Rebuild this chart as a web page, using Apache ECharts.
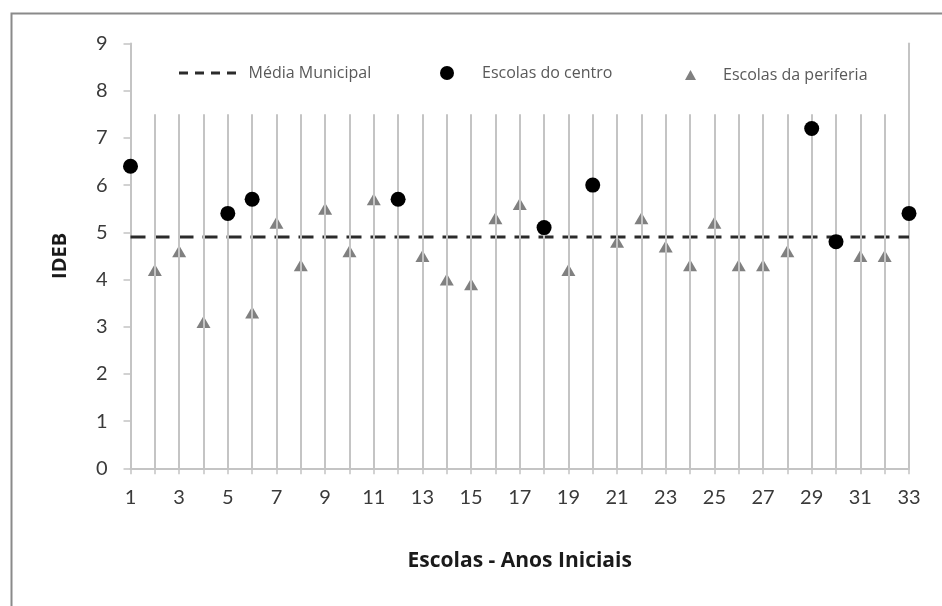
<!DOCTYPE html>
<html>
<head>
<meta charset="utf-8">
<script src="https://cdn.jsdelivr.net/npm/echarts@6/dist/echarts.min.js"></script>
<style>
html,body{margin:0;padding:0;background:#fff;}
#chart{width:942px;height:606px;}
</style>
</head>
<body>
<div id="chart"></div>
<script>
// ---- data ----
const centroX = [1, 5, 6, 12, 18, 20, 29, 30, 33];
const centroY = [6.4, 5.4, 5.7, 5.7, 5.1, 6.0, 7.2, 4.8, 5.4];
const periferiaX = [2, 3, 4, 6, 7, 8, 9, 10, 11, 13, 14, 15, 16, 17, 19, 21, 22, 23, 24, 25, 26, 27, 28, 31, 32];
const periferiaY = [4.2, 4.6, 3.1, 3.3, 5.2, 4.3, 5.5, 4.6, 5.7, 4.5, 4.0, 3.9, 5.3, 5.6, 4.2, 4.8, 5.3, 4.7, 4.3, 5.2, 4.3, 4.3, 4.6, 4.5, 4.5];
const mediaMunicipal = 4.9;
const mediaX = [1, 33];
const dropLineX = [2, 3, 4, 5, 6, 7, 8, 9, 10, 11, 12, 13, 14, 15, 16, 17, 18, 19, 20, 21, 22, 23, 24, 25, 26, 27, 28, 29, 30, 31, 32];
const dropLineTop = 7.5;
const xTickLabels = [1, 3, 5, 7, 9, 11, 13, 15, 17, 19, 21, 23, 25, 27, 29, 31, 33];
const yTicks = [0, 1, 2, 3, 4, 5, 6, 7, 8, 9];

const FONT = "Lato, 'Open Sans', sans-serif";
const FONT2 = "'Open Sans', Lato, sans-serif";
const chart = echarts.init(document.getElementById('chart'), null, {renderer: 'canvas'});

const pair = (xs, ys) => xs.map((x, i) => [x, ys[i]]);
const legendText = {fontFamily: FONT2, fontSize: 16, color: '#595959'};

const option = {
  animation: false,
  backgroundColor: '#ffffff',
  graphic: [{
    type: 'rect', left: 9, top: 11, z: -10, silent: true,
    shape: {width: 945, height: 610},
    style: {fill: 'none', stroke: '#8a8a8a', lineWidth: 2}
  }],
  grid: {left: 130.5, right: 33, top: 43.5, bottom: 137.7, containLabel: false},
  xAxis: {
    type: 'value', min: 1, max: 33, interval: 1,
    name: 'Escolas - Anos Iniciais', nameLocation: 'middle', nameGap: 82,
    nameTextStyle: {fontFamily: FONT2, fontWeight: 'bold', fontSize: 21, color: '#1a1a1a'},
    axisLine: {show: true, onZero: false, lineStyle: {color: '#c4c4c4', width: 2}},
    axisTick: {show: true, length: 6, lineStyle: {color: '#c4c4c4', width: 1.5}},
    axisLabel: {
      margin: 19, fontFamily: FONT, fontSize: 20, color: '#3a3a3a',
      formatter: v => xTickLabels.indexOf(v) >= 0 ? String(v) : ''
    },
    splitLine: {show: false}
  },
  yAxis: [{
    type: 'value', min: 0, max: 9, interval: 1,
    name: 'IDEB', nameLocation: 'middle', nameGap: 60,
    nameTextStyle: {fontFamily: FONT2, fontWeight: 'bold', fontSize: 20, color: '#1a1a1a'},
    axisLine: {show: true, lineStyle: {color: '#c4c4c4', width: 2}},
    axisTick: {show: true, length: 7, lineStyle: {color: '#c4c4c4', width: 1.5}},
    axisLabel: {margin: 23, fontFamily: FONT, fontSize: 20, color: '#3a3a3a',
      formatter: v => yTicks.indexOf(v) >= 0 ? String(v) : ''},
    splitLine: {show: false}
  }, {
    type: 'value', min: 0, max: 9, interval: 1, position: 'right',
    axisLine: {show: true, lineStyle: {color: '#c4c4c4', width: 2}},
    axisTick: {show: false}, axisLabel: {show: false}, splitLine: {show: false}
  }],
  legend: [{
    data: [{name: 'Média Municipal',
      icon: 'path://M0,0h9v3h-9z M16,0h9v3h-9z M32,0h9v3h-9z M48,0h9v3h-9z'}],
    left: 174, top: 60, itemWidth: 58, itemHeight: 3,
    textStyle: Object.assign({padding: [0, 0, 0, 7]}, legendText)
  }, {
    data: [{name: 'Escolas do centro', icon: 'circle'}], left: 435, top: 60, itemWidth: 14, itemHeight: 14,
    textStyle: Object.assign({padding: [0, 0, 0, 23]}, legendText)
  }, {
    data: [{name: 'Escolas da periferia', icon: 'triangle'}], left: 680, top: 62, itemWidth: 11, itemHeight: 10,
    textStyle: Object.assign({padding: [0, 0, 0, 22]}, legendText)
  }],
  series: [{
    name: 'linhas', type: 'line', data: [], silent: true, z: 1,
    markLine: {
      silent: true, symbol: ['none', 'none'], label: {show: false},
      lineStyle: {color: '#c4c4c4', width: 2, type: 'solid'},
      data: dropLineX.map(x => [{coord: [x, 0]}, {coord: [x, dropLineTop]}])
    }
  }, {
    name: 'Média Municipal', type: 'line', z: 3, symbol: 'none',
    data: mediaX.map(x => [x, mediaMunicipal]),
    lineStyle: {color: '#2b2b2b', width: 3, type: [15, 9]},
    itemStyle: {color: '#2b2b2b'}
  }, {
    name: 'Escolas do centro', type: 'scatter', z: 5, symbol: 'circle', symbolSize: 15,
    data: pair(centroX, centroY),
    itemStyle: {color: '#000000', opacity: 1}
  }, {
    name: 'Escolas da periferia', type: 'scatter', z: 4, symbol: 'triangle', symbolSize: [14, 12],
    data: pair(periferiaX, periferiaY),
    itemStyle: {color: '#808080', opacity: 1}
  }]
};
chart.setOption(option);
</script>
</body>
</html>
